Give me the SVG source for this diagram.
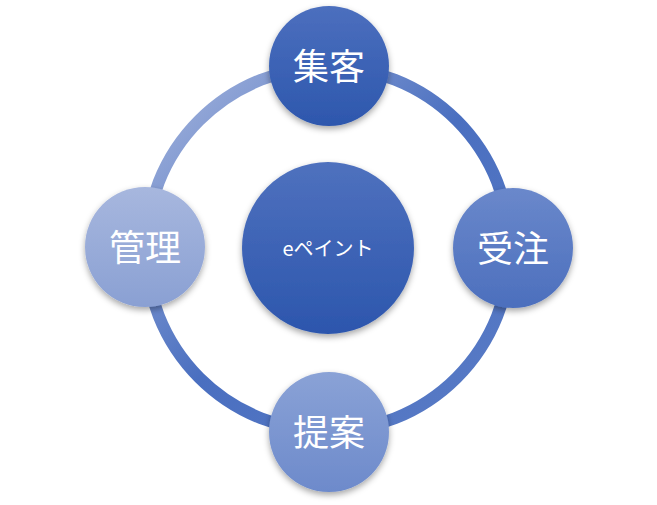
<svg xmlns="http://www.w3.org/2000/svg" width="657" height="505" viewBox="0 0 657 505">
<defs>
<linearGradient id="ring" x1="0" y1="0" x2="1" y2="1"><stop offset="0" stop-color="#a9b8de"/><stop offset="0.5" stop-color="#4a6fc0"/><stop offset="1" stop-color="#5a7cc6"/></linearGradient>
<linearGradient id="gc" x1="0" y1="0" x2="0" y2="1"><stop offset="0" stop-color="#4f71be"/><stop offset="1" stop-color="#2c56ad"/></linearGradient>
<linearGradient id="g1" x1="0" y1="0" x2="0" y2="1"><stop offset="0" stop-color="#4c6fbe"/><stop offset="1" stop-color="#2d57ad"/></linearGradient>
<linearGradient id="g2" x1="0" y1="0" x2="0" y2="1"><stop offset="0" stop-color="#6a88cb"/><stop offset="1" stop-color="#4c6fbd"/></linearGradient>
<linearGradient id="g3" x1="0" y1="0" x2="0" y2="1"><stop offset="0" stop-color="#8aa2d6"/><stop offset="1" stop-color="#6d8acb"/></linearGradient>
<linearGradient id="g4" x1="0" y1="0" x2="0" y2="1"><stop offset="0" stop-color="#a7b7de"/><stop offset="1" stop-color="#8aa0d3"/></linearGradient>
<filter id="sh" x="-20%" y="-20%" width="140%" height="150%"><feDropShadow dx="0" dy="3" stdDeviation="3" flood-color="#000" flood-opacity="0.35"/></filter>
</defs>
<style>text{fill:#fff;font-family:"Noto Sans CJK JP","Noto Sans",sans-serif;text-anchor:middle;dominant-baseline:central}.n{font-size:36px}</style>
<g id="connectors"><circle cx="328" cy="249" r="182" fill="none" stroke="url(#ring)" stroke-width="12"/></g>
<g id="center"><circle cx="328" cy="248" r="86" fill="url(#gc)" filter="url(#sh)"/><text x="328" y="247" font-size="20">eペイント</text></g>
<g id="n1"><circle cx="329" cy="66" r="60" fill="url(#g1)" filter="url(#sh)"/><text class="n" x="329" y="64">集客</text></g>
<g id="n2"><circle cx="513" cy="248" r="60" fill="url(#g2)" filter="url(#sh)"/><text class="n" x="513" y="246">受注</text></g>
<g id="n3"><circle cx="329" cy="432" r="60" fill="url(#g3)" filter="url(#sh)"/><text class="n" x="329" y="430">提案</text></g>
<g id="n4"><circle cx="145" cy="247" r="60" fill="url(#g4)" filter="url(#sh)"/><text class="n" x="145" y="245">管理</text></g>
</svg>
